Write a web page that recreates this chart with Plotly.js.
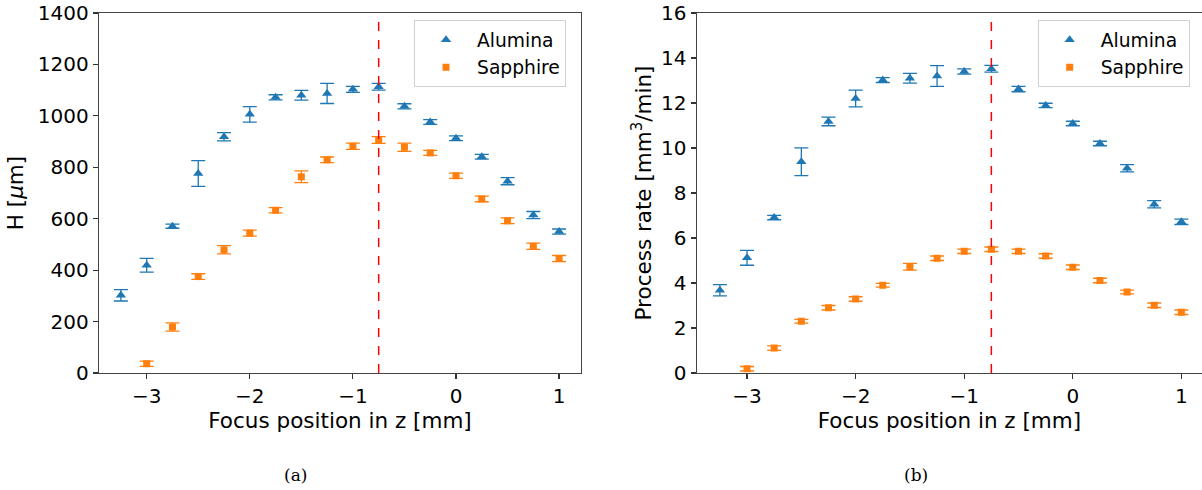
<!DOCTYPE html>
<html>
<head>
<meta charset="utf-8">
<script src="https://cdn.plot.ly/plotly-3.0.1.min.js"></script>
<style>html,body{margin:0;padding:0;background:#fff;overflow:hidden}#chart{width:1202px;height:490px}</style>
</head>
<body>
<div id="chart"></div>
<script>
// Focus positions (mm)
const zAlumina = [-3.25, -3.0, -2.75, -2.5, -2.25, -2.0, -1.75, -1.5, -1.25, -1.0, -0.75, -0.5, -0.25, 0.0, 0.25, 0.5, 0.75, 1.0];
const zSapphire = [-3.0, -2.75, -2.5, -2.25, -2.0, -1.75, -1.5, -1.25, -1.0, -0.75, -0.5, -0.25, 0.0, 0.25, 0.5, 0.75, 1.0];

// (a) depth H [µm]
const hAlumina    = [302, 419, 571, 776, 919, 1006, 1072, 1080, 1087, 1103, 1113, 1037, 976, 913, 841, 746, 614, 550];
const hAluminaErr = [22, 27, 8, 50, 16, 30, 10, 19, 39, 12, 13, 10, 9, 9, 9, 14, 14, 10];
const hSapphire    = [36, 179, 375, 479, 544, 633, 763, 829, 882, 906, 878, 856, 767, 677, 592, 493, 445];
const hSapphireErr = [10, 16, 11, 16, 12, 10, 23, 11, 12, 13, 16, 10, 10, 11, 11, 12, 12];

// (b) process rate [mm^3/min]
const rAlumina    = [3.68, 5.12, 6.91, 9.39, 11.18, 12.2, 13.02, 13.1, 13.2, 13.4, 13.52, 12.62, 11.89, 11.09, 10.2, 9.1, 7.5, 6.72];
const rAluminaErr = [0.25, 0.33, 0.1, 0.62, 0.19, 0.37, 0.11, 0.22, 0.46, 0.12, 0.15, 0.12, 0.1, 0.1, 0.1, 0.16, 0.16, 0.12];
const rSapphire    = [0.19, 1.11, 2.3, 2.9, 3.29, 3.9, 4.72, 5.1, 5.41, 5.5, 5.41, 5.2, 4.7, 4.11, 3.6, 3.01, 2.7];
const rSapphireErr = [0.1, 0.1, 0.08, 0.1, 0.1, 0.08, 0.15, 0.1, 0.1, 0.1, 0.1, 0.1, 0.1, 0.1, 0.08, 0.1, 0.1];

const optimumZ = -0.75;
const seriesNames = ['Alumina', 'Sapphire'];
const captions = ['(a)', '(b)'];

const BLUE = '#1f77b4', ORANGE = '#ff7f0e';
const FONT = 'DejaVu Sans, sans-serif';
const TICK_SIZE = 20, TITLE_SIZE = 21.5, LEGEND_SIZE = 18.7;

function series(x, y, err, name, color, symbol, size, xa, ya, legend) {
  return {
    type: 'scatter', mode: 'markers', x: x, y: y, name: name,
    xaxis: xa, yaxis: ya, legend: legend, showlegend: true,
    marker: {color: color, symbol: symbol, size: size},
    error_y: {type: 'data', array: err, visible: true, color: color, thickness: 1.3, width: 7}
  };
}

const traces = [
  series(zAlumina, hAlumina, hAluminaErr, seriesNames[0], BLUE, 'triangle-up', 9, 'x', 'y', 'legend'),
  series(zSapphire, hSapphire, hSapphireErr, seriesNames[1], ORANGE, 'square', 7, 'x', 'y', 'legend'),
  series(zAlumina, rAlumina, rAluminaErr, seriesNames[0], BLUE, 'triangle-up', 9, 'x2', 'y2', 'legend2'),
  series(zSapphire, rSapphire, rSapphireErr, seriesNames[1], ORANGE, 'square', 7, 'x2', 'y2', 'legend2')
];

const axisCommon = {
  showgrid: false, zeroline: false, showline: true, linecolor: '#444', linewidth: 1.3,
  ticks: 'outside', ticklen: 5, tickwidth: 1.2, tickcolor: '#333',
  tickfont: {family: FONT, size: TICK_SIZE, color: '#000'}
};

const legendCommon = {
  xanchor: 'left', yanchor: 'top', bgcolor: '#fff', bordercolor: '#d0d0d0', borderwidth: 1,
  font: {family: FONT, size: LEGEND_SIZE, color: '#000'}, itemwidth: 52
};

const titleFont = {family: FONT, size: TITLE_SIZE, color: '#000'};

const layout = {
  width: 1202, height: 490,
  margin: {l: 99, r: 0, t: 13, b: 117},
  paper_bgcolor: '#fff', plot_bgcolor: '#fff',
  font: {family: FONT, color: '#000'},
  xaxis: Object.assign({}, axisCommon, {
    domain: [0, 0.437], range: [-3.4625, 1.2125], dtick: 1, tick0: 0, mirror: true, anchor: 'y',
    title: {text: 'Focus position in z [mm]', font: titleFont, standoff: 0}
  }),
  yaxis: Object.assign({}, axisCommon, {
    domain: [0, 1], range: [0, 1400], dtick: 200, mirror: true, anchor: 'x',
    title: {text: 'H [<i>μ</i>m]', font: titleFont, standoff: 8}
  }),
  xaxis2: Object.assign({}, axisCommon, {
    domain: [0.542, 1], range: [-3.4625, 1.19], dtick: 1, tick0: 0, mirror: true, anchor: 'y2',
    title: {text: 'Focus position in z [mm]', font: titleFont, standoff: 0}
  }),
  yaxis2: Object.assign({}, axisCommon, {
    domain: [0, 1], range: [0, 16], dtick: 2, mirror: false, anchor: 'x2',
    title: {text: 'Process rate [mm<sup>3</sup>/min]', font: titleFont, standoff: 3}
  }),
  legend: Object.assign({}, legendCommon, {x: 0.2856, y: 0.98}),
  legend2: Object.assign({}, legendCommon, {x: 0.851, y: 0.98}),
  shapes: [
    {type: 'line', xref: 'x', yref: 'y domain', x0: optimumZ, x1: optimumZ, y0: 0, y1: 1,
     line: {color: 'red', width: 1.5, dash: 'dash'}},
    {type: 'line', xref: 'x2', yref: 'y2 domain', x0: optimumZ, x1: optimumZ, y0: 0, y1: 1,
     line: {color: 'red', width: 1.5, dash: 'dash'}}
  ],
  annotations: [
    {text: captions[0], xref: 'paper', yref: 'paper', x: 0.1786, y: -0.284, showarrow: false,
     xanchor: 'center', yanchor: 'middle', font: {family: 'DejaVu Serif, serif', size: 17, color: '#000'}},
    {text: captions[1], xref: 'paper', yref: 'paper', x: 0.7407, y: -0.284, showarrow: false,
     xanchor: 'center', yanchor: 'middle', font: {family: 'DejaVu Serif, serif', size: 17, color: '#000'}}
  ]
};

Plotly.newPlot('chart', traces, layout, {staticPlot: true, displayModeBar: false});
</script>
</body>
</html>
